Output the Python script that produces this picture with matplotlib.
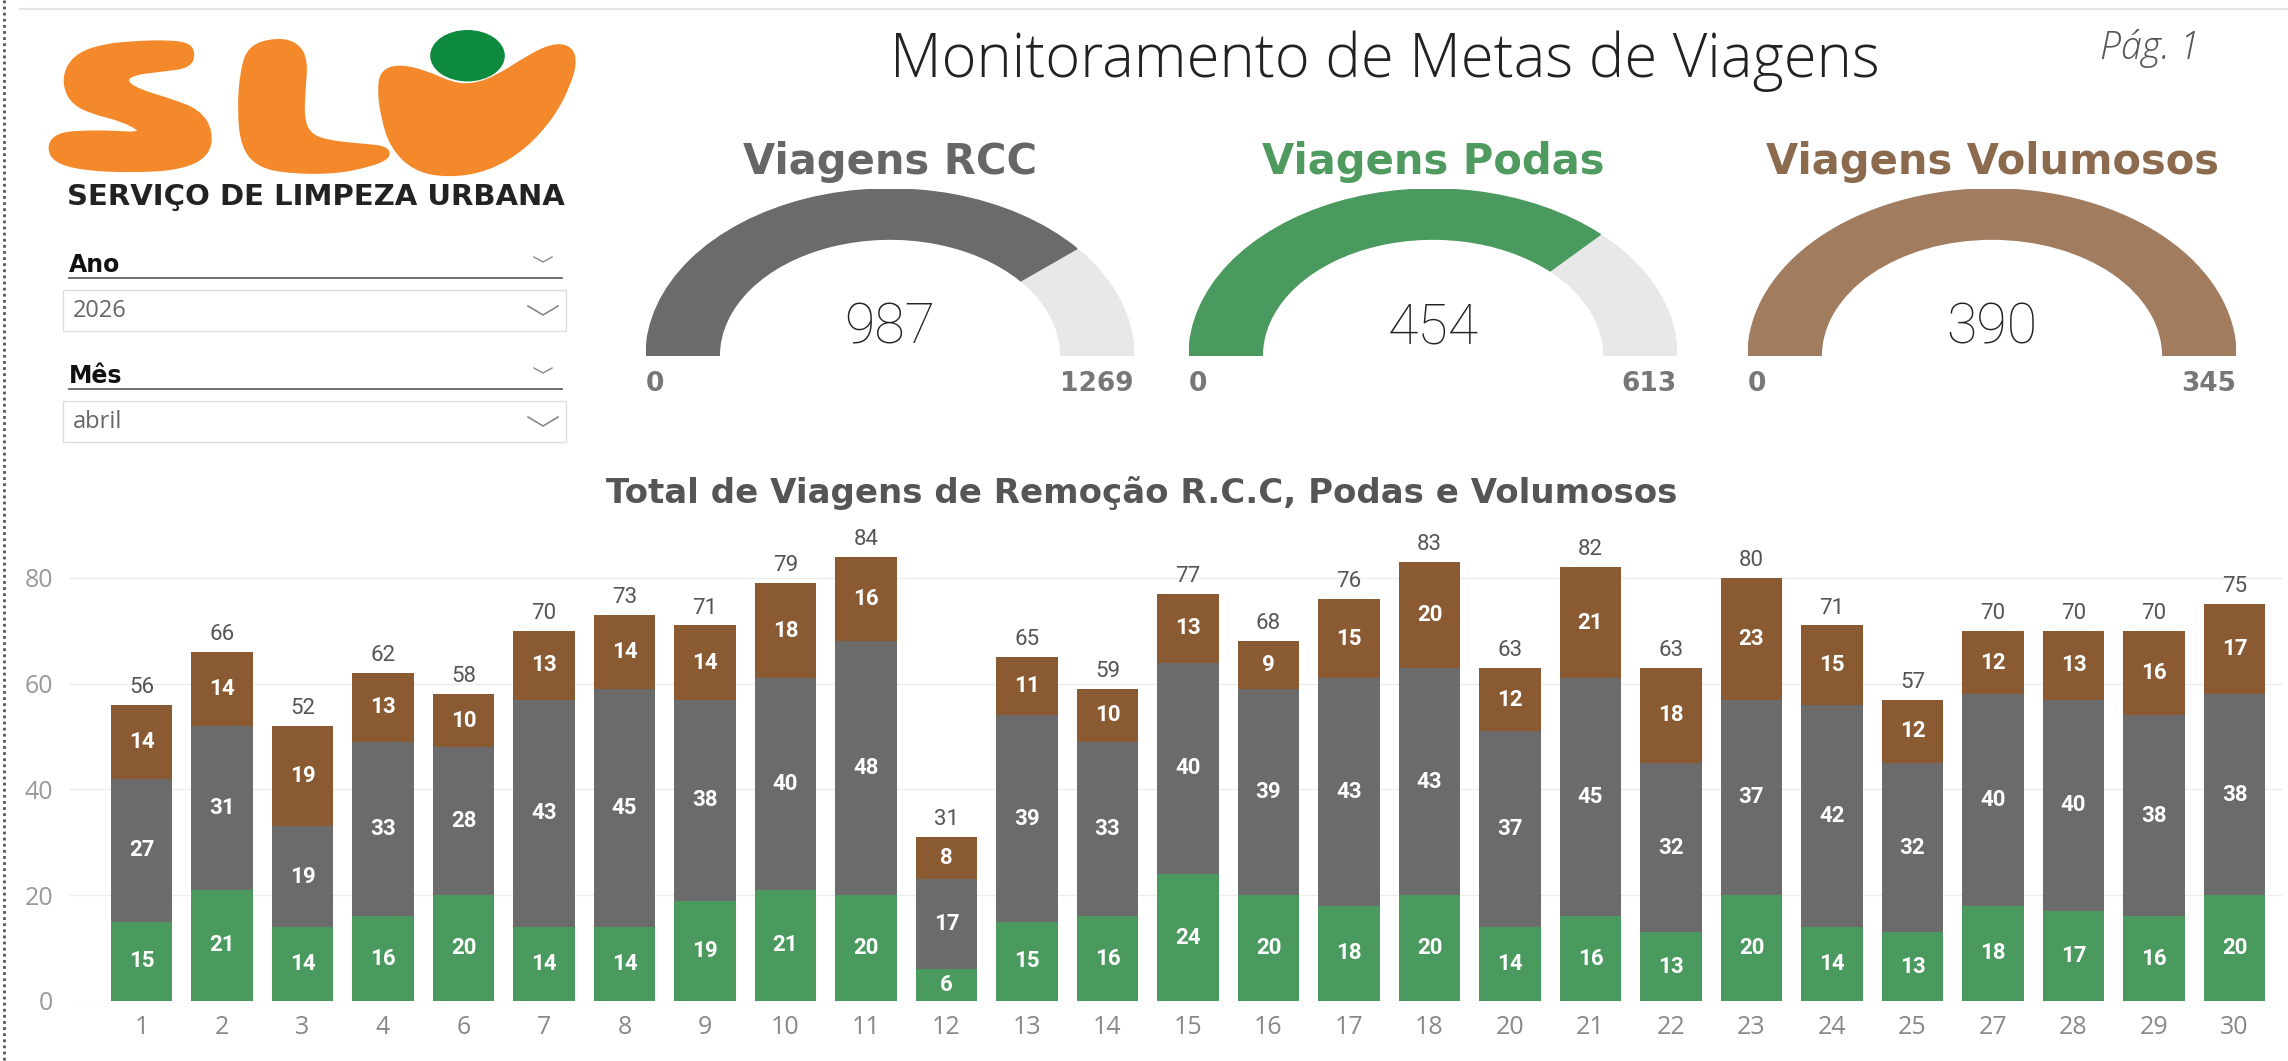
import matplotlib
matplotlib.use("Agg")
import matplotlib.pyplot as plt
from matplotlib.patches import Wedge, Rectangle, Ellipse, PathPatch
from matplotlib.path import Path
import numpy as np

plt.rcParams['font.family'] = ['Open Sans', 'DejaVu Sans']

# data
days = [1, 2, 3, 4, 6, 7, 8, 9, 10, 11, 12, 13, 14, 15, 16, 17, 18,
        20, 21, 22, 23, 24, 25, 27, 28, 29, 30]
podas = [15, 21, 14, 16, 20, 14, 14, 19, 21, 20, 6, 15, 16, 24, 20, 18, 20,
         14, 16, 13, 20, 14, 13, 18, 17, 16, 20]
rcc = [27, 31, 19, 33, 28, 43, 45, 38, 40, 48, 17, 39, 33, 40, 39, 43, 43,
       37, 45, 32, 37, 42, 32, 40, 40, 38, 38]
volumosos = [14, 14, 19, 13, 10, 13, 14, 14, 18, 16, 8, 11, 10, 13, 9, 15, 20,
             12, 21, 18, 23, 15, 12, 12, 13, 16, 17]

gauge_names = ["Viagens RCC", "Viagens Podas", "Viagens Volumosos"]
gauge_targets = [1269, 613, 345]
gauge_values = [sum(rcc), sum(podas), sum(volumosos)]

ano = "2026"
mes = "abril"

GREEN = '#4a9a5f'
GRAY = '#6b6b6b'
BROWN = '#8a5a33'
TRACK = '#e8e8e8'
gauge_colors = [GRAY, GREEN, '#a17c5f']
title_colors = ['#666666', '#4e9a5f', '#8b6a4e']

W, H = 2288, 1061
fig = plt.figure(figsize=(W / 100, H / 100), dpi=100)
fig.patch.set_facecolor('white')


def ax_px(x0, y0, x1, y1):
    # axes from pixel box, top-left origin
    return fig.add_axes([x0 / W, 1 - y1 / H, (x1 - x0) / W, (y1 - y0) / H])


def smooth_closed(pts):
    # closed quadratic spline through the midpoints of an outline
    pts = np.array(pts, float)
    mids = (pts + np.roll(pts, -1, axis=0)) / 2
    verts = [mids[-1]]
    codes = [Path.MOVETO]
    for i in range(len(pts)):
        verts += [pts[i], mids[i]]
        codes += [Path.CURVE3, Path.CURVE3]
    verts.append(mids[-1])
    codes.append(Path.CLOSEPOLY)
    return Path(verts, codes)


# overlay for page decorations
ov = fig.add_axes([0, 0, 1, 1])
ov.set_xlim(0, W)
ov.set_ylim(H, 0)
ov.axis('off')
ov.patch.set_alpha(0)

ov.plot([4, 4], [0, H], color='#555555', ls=(0, (1, 1.2)), lw=2)
ov.plot([20, W], [9, 9], color='#e4e4e4', lw=1.5)

ov.text(67, 197, "SERVIÇO DE LIMPEZA URBANA", fontsize=21, weight='bold',
        color='#222222', va='center', ha='left', family=['DejaVu Sans'])

# slicers
for label, value, y in [("Ano", ano, 265), ("Mês", mes, 376)]:
    ov.text(69, y, label, fontsize=17, weight='bold', color='#111111', va='center',
            family=['DejaVu Sans'])
    ov.plot([69, 562], [y + 13, y + 13], color='#555555', lw=1.2)
    ov.plot([534, 543, 552], [y - 8, y - 3, y - 8], color='#888888', lw=1)
    ov.add_patch(Rectangle((63, y + 25), 503, 41, fill=False, edgecolor='#dddddd', lw=1))
    ov.text(73, y + 46, value, fontsize=17, color='#666666', va='center')
    ov.plot([528, 543, 558], [y + 41, y + 50, y + 41], color='#888888', lw=1.2)

ov.text(1385, 61, "Monitoramento de Metas de Viagens", fontsize=43, weight='light',
        color='#222222', ha='center', va='center')
ov.text(2150, 49, "Pág. 1", fontsize=27, weight='light', style='italic',
        color='#555555', ha='center', va='center')
ov.text(1142, 493, "Total de Viagens de Remoção R.C.C, Podas e Volumosos",
        fontsize=24.5, weight='bold', color='#555555', ha='center', va='center',
        family=['DejaVu Sans'])

# logo (outline traced in a 1568x504 box over pixels x 30-590, y 10-190)
lg = ax_px(30, 10, 590, 190)
lg.set_xlim(0, 1568)
lg.set_ylim(504, 0)
lg.axis('off')
lg.patch.set_alpha(0)
ORANGE = '#f3892a'
s_shape = [(455, 120), (440, 98), (380, 92), (300, 94), (210, 102), (140, 125),
           (105, 165), (100, 215), (125, 260), (180, 285), (260, 305), (315, 335),
           (300, 350), (230, 345), (140, 345), (80, 352), (55, 380), (70, 420),
           (150, 442), (290, 448), (420, 440), (495, 405), (505, 340), (470, 285),
           (390, 255), (300, 228), (262, 200), (285, 175), (370, 165), (445, 155)]
l_shape = [(690, 85), (745, 97), (770, 140), (764, 220), (760, 300), (778, 350),
           (830, 372), (930, 382), (995, 388), (1003, 410), (950, 432), (850, 452),
           (720, 450), (640, 432), (598, 380), (588, 280), (596, 170), (618, 105)]
u_shape = [(990, 172), (1040, 160), (1110, 178), (1180, 210), (1240, 215),
           (1310, 190), (1390, 138), (1460, 102), (1508, 105), (1524, 140),
           (1508, 205), (1462, 295), (1382, 385), (1280, 445), (1170, 462),
           (1078, 444), (1016, 382), (990, 300), (980, 220)]
for shp in [s_shape, l_shape, u_shape]:
    lg.add_patch(PathPatch(smooth_closed(shp), facecolor=ORANGE, edgecolor=ORANGE,
                           lw=4, joinstyle='round'))
lg.add_patch(Ellipse((1225, 128), 205, 140, color='#0e8a3e'))

# gauges
gauge_cx = [890, 1433, 1992]
gy0, gy1 = 189, 356
for name, val, tgt, c, tc, cx in zip(gauge_names, gauge_values, gauge_targets,
                                     gauge_colors, title_colors, gauge_cx):
    g = ax_px(cx - 244, gy0, cx + 244, gy1)
    g.set_xlim(-1, 1)
    g.set_ylim(0, 1)
    g.axis('off')
    g.patch.set_alpha(0)
    frac = min(val / tgt, 1.0)
    g.add_patch(Wedge((0, 0), 1, 0, 180, width=0.3, color=TRACK))
    g.add_patch(Wedge((0, 0), 1, 180 - 180 * frac, 180, width=0.3, color=c))
    g.text(0.0, 0.17, f"{val}", fontsize=40, weight='light', color='#222222',
           ha='center', va='center', family=['Roboto', 'DejaVu Sans'])
    g.text(-1, -0.17, "0", fontsize=19, weight='bold', color='#777777',
           ha='left', va='center', clip_on=False, family=['DejaVu Sans'])
    g.text(1, -0.17, f"{tgt}", fontsize=19, weight='bold', color='#777777',
           ha='right', va='center', clip_on=False, family=['DejaVu Sans'])
    g.text(0, 1.16, name, fontsize=30, weight='bold', color=tc,
           ha='center', va='center', clip_on=False, family=['DejaVu Sans'])

# stacked bar chart
ax = ax_px(70, 525, 2282, 1001)
x = np.arange(len(days))
pod = np.array(podas)
rc = np.array(rcc)
vol = np.array(volumosos)
bw = 0.76
ax.bar(x, pod, bw, color=GREEN, zorder=2)
ax.bar(x, rc, bw, bottom=pod, color=GRAY, zorder=2)
ax.bar(x, vol, bw, bottom=pod + rc, color=BROWN, zorder=2)

for i in range(len(days)):
    for bottom, v in [(0, pod[i]), (pod[i], rc[i]), (pod[i] + rc[i], vol[i])]:
        ax.text(x[i], bottom + v / 2, str(v), ha='center', va='center',
                color='white', fontsize=16, weight='bold', zorder=3,
                family=['Roboto', 'DejaVu Sans'])
    total = pod[i] + rc[i] + vol[i]
    ax.annotate(str(total), (x[i], total), xytext=(0, 5), textcoords='offset points',
                ha='center', va='bottom', fontsize=16, color='#555555',
                family=['Roboto', 'DejaVu Sans'])

ax.set_xlim(-0.888, 26.59)
ax.set_ylim(0, 90)
ax.set_yticks([0, 20, 40, 60, 80])
ax.set_xticks(x)
ax.set_xticklabels([str(d) for d in days])
ax.yaxis.grid(True, color='#ececec', lw=1)
ax.set_axisbelow(True)
for s in ax.spines.values():
    s.set_visible(False)
ax.tick_params(axis='y', length=0, labelsize=18, labelcolor='#999999', pad=12)
ax.tick_params(axis='x', length=0, labelsize=18, labelcolor='#888888', pad=10)
ax.patch.set_alpha(0)

fig.savefig("out.png", dpi=100, facecolor='white')
